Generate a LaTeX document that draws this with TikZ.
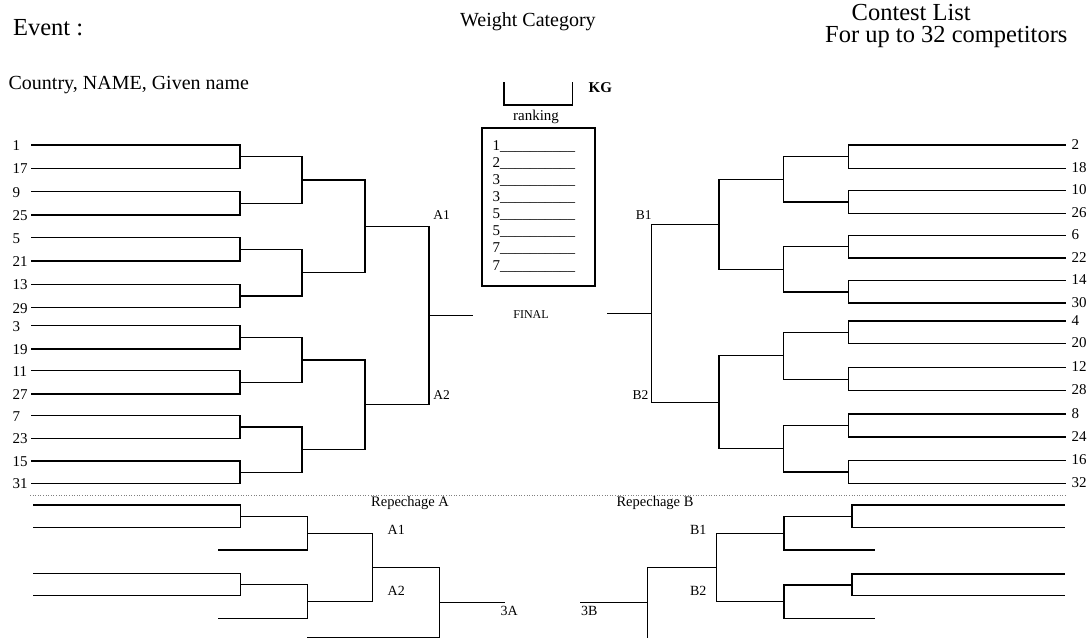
\documentclass[tikz,border=0pt]{standalone}
\usepackage{fontspec}
\setmainfont{Liberation Serif}
\begin{document}
\begin{tikzpicture}[x=1pt,y=-1pt,line width=1.3pt,line cap=rect,
  num/.style={anchor=base west,inner sep=0pt,font=\fontsize{15}{18}\selectfont},
  lbl/.style={anchor=base west,inner sep=0pt,font=\fontsize{14}{17}\selectfont},
  big/.style={anchor=base west,inner sep=0pt,font=\fontsize{24.5}{29}\selectfont},
  mid/.style={anchor=base west,inner sep=0pt,font=\fontsize{20}{24}\selectfont}]

\useasboundingbox (0,0) rectangle (1091,638);

% headings
\node[big] (event) at (12.5,35.7) {Event :};
\node[mid] (weight) at (459.5,26) {Weight Category};
\node[big] (contest) at (851,20.5) {Contest List};
\node[big] (upto) at (824.5,42) {For up to 32 competitors};
\node[mid] (country) at (8,89) {Country, NAME, Given name};

% weight and ranking
\draw (504,82.7) |- (572.3,105) -- (572.3,82.7);
\node[num,font=\fontsize{15}{18}\selectfont\bfseries] (kg) at (588,92.3) {KG};
\node[num,anchor=base] (ranking) at (536,120) {ranking};
\draw[line width=1.6pt] (481.7,127.7) rectangle (595,285.7);
\foreach \r [count=\i] in {1,2,3,3,5,5,7,7}
  \node[num] (rank\i) at (492,{150+17.15*(\i-1)}) {\r\_\_\_\_\_\_\_\_\_\_};
\node[num,anchor=base,font=\fontsize{12}{14}\selectfont] (final) at (531,318.5) {FINAL};

% pool A
\foreach \n/\y in {1/145,17/168.3,9/191.7,25/215,5/237.7,21/261,13/284.3,29/307.7,
                   3/325.7,19/349,11/370.7,27/394,7/415.7,23/438.3,15/461,31/483.3}
{
  \draw (32,\y) -- (240,\y);
  \node[num] (a\n) at (12,\y+5.5) {\n};
}
\foreach \xa/\xb/\ya/\yb in {240/302/145/168.3, 240/302/191.7/215, 240/302/237.7/261,
    240/302/284.3/307.7, 240/302/325.7/349, 240/302/370.7/394, 240/302/415.7/438.3,
    240/302/461/483.3, 302/365/156.65/203.35, 302/365/249.35/296, 302/365/337.35/382.35,
    302/365/427/472.15, 365/429/180/272.7, 365/429/359.85/449.6, 429/472.7/226.35/404.7}
  \draw (\xa,\ya) -- (\xa,\yb) (\xa,{(\ya+\yb)/2}) -- (\xb,{(\ya+\yb)/2});
\node[num,font=\fontsize{13.5}{16}\selectfont] (A1) at (432.7,219.3) {A1};
\node[num,font=\fontsize{13.5}{16}\selectfont] (A2) at (432.7,399.3) {A2};

% pool B
\foreach \n/\y in {2/145,18/168.3,10/190.7,26/213.3,6/235.3,22/258,14/280.7,30/303,
                   4/321,20/343.7,12/367.7,28/390.7,8/414,24/437,16/460.7,32/483.3}
{
  \draw (848.3,\y) -- (1065,\y);
  \node[num] (b\n) at (1071,\y+4) {\n};
}
\foreach \xa/\xb/\ya/\yb in {848.3/783.3/145/168.3, 848.3/783.3/190.7/213.3,
    848.3/783.3/235.3/258, 848.3/783.3/280.7/303, 848.3/783.3/321/343.7,
    848.3/783.3/367.7/390.7, 848.3/783.3/414/437, 848.3/783.3/460.7/483.3,
    783.3/719/156.65/202, 783.3/719/246.65/291.85, 783.3/719/332.35/379.2,
    783.3/719/425.5/472, 719/651.7/179.3/269.25, 719/651.7/355.8/448.75,
    651.7/607.3/224.3/402.3}
  \draw (\xa,\ya) -- (\xa,\yb) (\xa,{(\ya+\yb)/2}) -- (\xb,{(\ya+\yb)/2});
\node[num,anchor=base east,font=\fontsize{13.5}{16}\selectfont] (B1) at (652.3,219.3) {B1};
\node[num,anchor=base east,font=\fontsize{13.5}{16}\selectfont] (B2) at (649,399.3) {B2};

% repechage
\draw[gray,line width=0.8pt,line cap=butt,dash pattern=on 1pt off 1.6pt] (30,495.7) -- (1067,495.7);
\node[lbl,anchor=base,font=\fontsize{14.5}{17}\selectfont] (repA) at (410,506) {Repechage A};
\node[lbl,anchor=base,font=\fontsize{14.5}{17}\selectfont] (repB) at (655,506) {Repechage B};

\foreach \y in {505,527.7,573.3,595.7}
  \draw (34,\y) -- (240.6,\y);
\draw (218.9,550) -- (307.3,550) (218.9,618.7) -- (307.3,618.7);
\foreach \xa/\xb/\ya/\yb in {240.6/307.3/505/527.7, 307.3/372.5/516.35/550,
    240.6/307.3/573.3/595.7, 307.3/372.5/584.5/618.7, 372.5/439.2/533.2/601.6,
    439.2/504/567.4/637.3}
  \draw (\xa,\ya) -- (\xa,\yb) (\xa,{(\ya+\yb)/2}) -- (\xb,{(\ya+\yb)/2});
\draw (307.3,637.3) -- (439.2,637.3);
\node[lbl] (rA1) at (387,534.3) {A1};
\node[lbl] (rA2) at (387,595.7) {A2};
\node[lbl] (r3A) at (500,615) {3A};

\foreach \y in {505,527.7,574,595.7}
  \draw (851.9,\y) -- (1064.8,\y);
\draw (784,550) -- (874.4,550) (784,618.7) -- (874.4,618.7);
\foreach \xa/\xb/\ya/\yb in {851.9/784/505/527.7, 784/716.3/516.35/550,
    851.9/784/574/595.7, 784/716.3/584.85/618.7, 716.3/647.7/533.2/601.8,
    647.7/580.4/567.5/637.3}
  \draw (\xa,\ya) -- (\xa,\yb) (\xa,{(\ya+\yb)/2}) -- (\xb,{(\ya+\yb)/2});
\node[lbl] (rB1) at (689.5,534.3) {B1};
\node[lbl] (rB2) at (689.5,595.7) {B2};
\node[lbl] (r3B) at (580.5,615) {3B};

\end{tikzpicture}
\end{document}
